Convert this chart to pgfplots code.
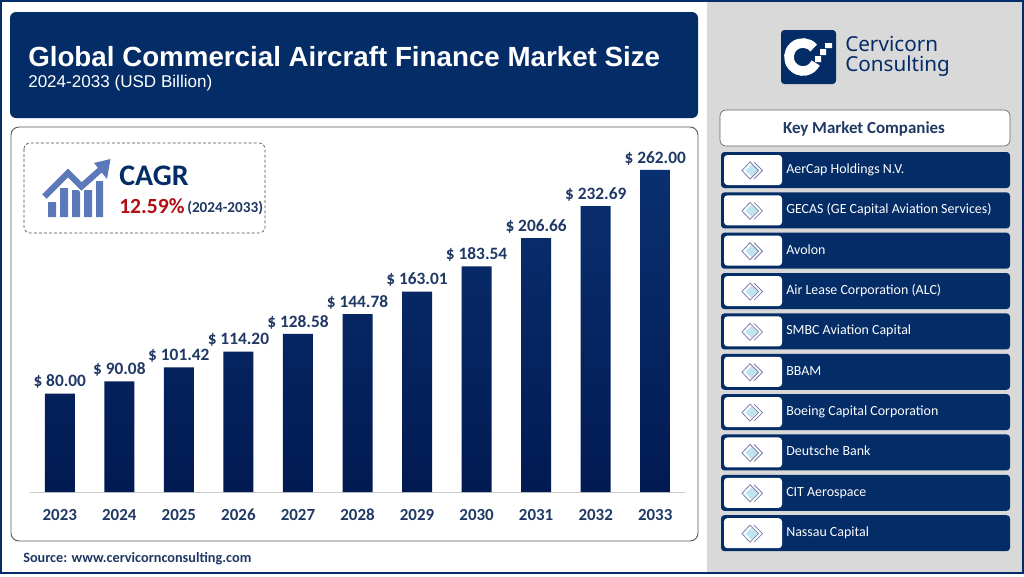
\documentclass[border=0pt]{standalone}
\usepackage{pgfplots}
\pgfplotsset{compat=1.18}
\usepackage{fontspec}
\setmainfont{Carlito}
\newfontfamily\titlefont{Liberation Sans}
\newfontfamily\logofont{Noto Sans}
\definecolor{navy}{HTML}{042C66}
\definecolor{panel}{HTML}{D9D9D9}
\definecolor{labelblue}{HTML}{1F3864}
\definecolor{iconblue}{HTML}{5B78B8}
\definecolor{cagrred}{HTML}{B00F14}
\definecolor{bartop}{HTML}{0A3070}
\definecolor{barbottom}{HTML}{021A52}
\definecolor{diamond}{HTML}{7F7BA6}
\definecolor{diamondfill}{HTML}{BDE6F2}
\begin{document}
\begin{tikzpicture}[x=0.75pt,y=-0.75pt]
% page and panels, in reference pixels
\path[use as bounding box] (0,0) rectangle (1024,576);
\fill[white] (0,0) rectangle (1024,576);
\fill[panel] (707,2) rectangle (1022,573);
\draw[navy,line width=1.5pt] (1,1) rectangle (1023,573);
\fill[navy,rounded corners=4.5pt] (10,12) rectangle (698,118);
\draw[black!65,fill=white,rounded corners=6pt,line width=0.7pt] (11,127) rectangle (698,541);
\node[anchor=west,text=white,inner sep=0pt] at (28,57) {\titlefont\bfseries\fontsize{20.8}{24}\selectfont Global Commercial Aircraft Finance Market Size};
\node[anchor=west,text=white,inner sep=0pt] at (28,83) {\titlefont\fontsize{12.8}{15}\selectfont 2024-2033 (USD Billion)};
\node[anchor=west,text=labelblue,inner sep=0pt] at (23,559) {\bfseries\fontsize{10.7}{12}\selectfont Source: www.cervicornconsulting.com};
\coordinate (origin) at (30,492);

% bars
\begin{axis}[
    at={(origin)}, anchor=south west,
    scale only axis,
    width=491.25pt, height=264pt,
    xmin=2022.5, xmax=2033.5,
    ymin=0, ymax=286.4,
    ybar, bar width=22.5pt,
    axis y line=none,
    axis x line=bottom,
    axis line style={black!20,-},
    xtick=data,
    xticklabel style={/pgf/number format/1000 sep={},text=labelblue,text height=9pt,text depth=0pt,font=\bfseries\fontsize{12.7}{15}\selectfont},
    major tick length=0pt,
    xticklabel shift=9pt,
    /pgf/number format/assume math mode=true,
    clip=false,
    nodes near coords={\$ \pgfmathprintnumber[fixed,fixed zerofill,precision=2,/pgf/number format/assume math mode=true]{\pgfplotspointmeta}},
    every node near coord/.append style={text=labelblue,text height=9pt,text depth=1pt,font=\bfseries\fontsize{13}{15}\selectfont,yshift=0.5pt},
]
\addplot[draw=none,top color=bartop,bottom color=barbottom] coordinates {
    (2023,80.00) (2024,90.08) (2025,101.42) (2026,114.20) (2027,128.58) (2028,144.78)
    (2029,163.01) (2030,183.54) (2031,206.66) (2032,232.69) (2033,262.00)
};
\end{axis}

% CAGR box
\draw[black!70,dash pattern=on 2.2pt off 1.6pt,rounded corners=4.5pt,line width=0.5pt] (24,143) rectangle (265,233);
\fill[iconblue] (48,202) rectangle (56,217) (60,188) rectangle (68,217) (72,190) rectangle (80,217) (84,190) rectangle (92,217) (96,181) rectangle (103,217);
\draw[white,line width=7pt,line join=miter] (44.5,196.5) -- (68,173) -- (81.5,186.5) -- (100,170);
\draw[iconblue,line width=4.6pt,line join=miter] (44.5,196.5) -- (68,173) -- (81.5,186.5) -- (100,170);
\fill[iconblue] (94,163) -- (110.5,159) -- (107,179) -- cycle;
\node[anchor=west,text=navy,inner sep=0pt] at (119,176) {\bfseries\fontsize{22.4}{26}\selectfont CAGR};
\node[anchor=west,text=cagrred,inner sep=0pt] at (119,206) {\bfseries\fontsize{16.2}{18}\selectfont 12.59\%};
\node[anchor=west,text=labelblue,inner sep=0pt] at (187,208) {\bfseries\fontsize{11.4}{13}\selectfont (2024-2033)};

% logo
\fill[navy,rounded corners=2.5pt] (781,30) rectangle (836,84);
\draw[white,line width=7.2pt] (813.7,48) arc[start angle=-40,end angle=-335,radius=14];
\fill[white] (825,43) rectangle (832,48) (820,49) rectangle (826,55) (815,56) rectangle (821,62);
\node[anchor=west,text=navy,inner sep=0pt,align=left,font=\logofont\fontsize{15.5}{15}\selectfont] at (845,56) {Cervicorn\\Consulting};

% company list
\draw[black!60,fill=white,rounded corners=4.5pt,line width=0.5pt] (720,110) rectangle (1010,146);
\node[text=labelblue] at (864,129) {\bfseries\fontsize{12.7}{15}\selectfont Key Market Companies};
\foreach \name [count=\i from 0] in {AerCap Holdings N.V.,GECAS (GE Capital Aviation Services),Avolon,Air Lease Corporation (ALC),SMBC Aviation Capital,BBAM,Boeing Capital Corporation,Deutsche Bank,CIT Aerospace,Nassau Capital}{
    \pgfmathsetmacro{\yy}{152+40.35*\i}
    \fill[navy,rounded corners=2.5pt] (721,\yy) rectangle ++(289,36);
    \fill[white,rounded corners=2.5pt] (724,\yy+3) rectangle ++(58,30);
    \fill[diamondfill] (751.5,\yy+12.5) -- ++(6,6) -- ++(-6,6) -- ++(-6,-6) -- cycle;
    \draw[diamond,line width=0.6pt] (750,\yy+10) -- ++(8.5,8.5) -- ++(-8.5,8.5) -- ++(-8,-8.5) -- cycle;
    \draw[diamond,line width=0.6pt] (754,\yy+10) -- ++(8.5,8.5) -- ++(-8.5,8.5);
    \node[anchor=base west,text=white,inner sep=0pt] at (786,\yy+21.5) {\fontsize{10.45}{12}\selectfont \name};
}
\end{tikzpicture}
\end{document}
